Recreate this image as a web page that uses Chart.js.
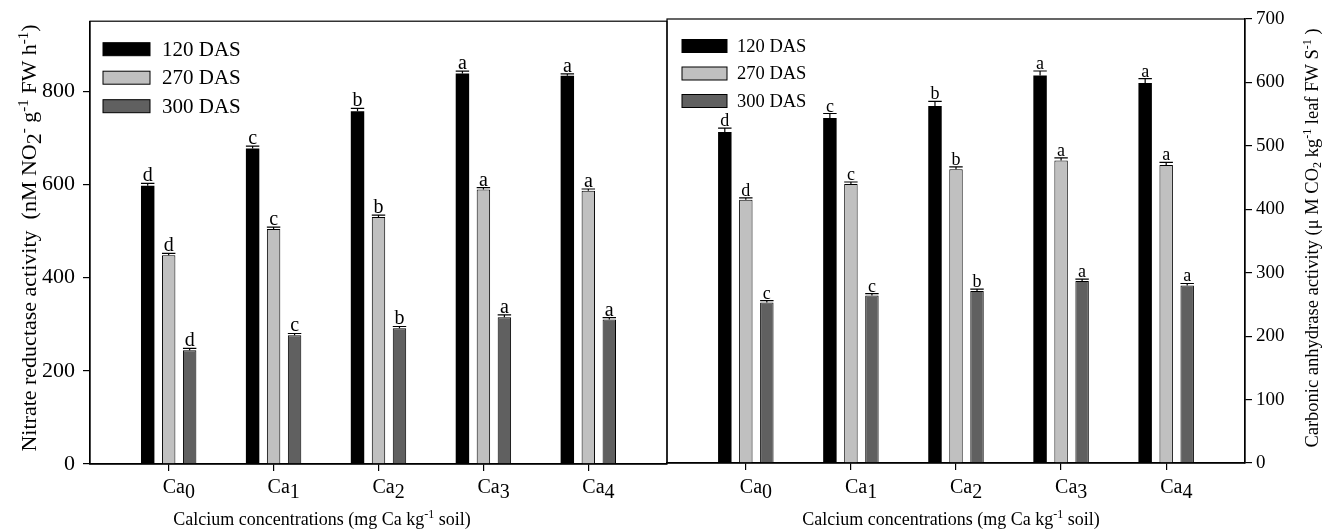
<!DOCTYPE html>
<html>
<head>
<meta charset="utf-8">
<script src="https://cdn.jsdelivr.net/npm/chart.js@4.4.0/dist/chart.umd.min.js"></script>
<style>
html,body{margin:0;padding:0;background:#fff;}
#wrap{position:relative;width:1329px;height:532px;overflow:hidden;}
#c1{position:absolute;left:0;top:0;}
#c2{position:absolute;left:661px;top:0;}
</style>
</head>
<body>
<div id="wrap">
  <canvas id="c1" width="670" height="532"></canvas>
  <canvas id="c2" width="668" height="532"></canvas>
</div>
<script>
// calcium levels (subscripts of "Ca") and series
const caLevels=['0','1','2','3','4'];
const seriesNames=['120 DAS','270 DAS','300 DAS'];
const seriesColors=['#000000','#c0c0c0','#606060'];

// nitrate reductase activity (left panel)
const nr120=[597,677,757,838,833];
const nr120Err=[5,5,6,5,4];
const nr270=[448,504,530,589,586];
const nr270Err=[4,4,4,4,4];
const nr300=[244,276,291,315,310];
const nr300Err=[4,4,4,5,4];
const nrLet120=['d','c','b','a','a'];
const nrLet270=['d','c','b','a','a'];
const nrLet300=['d','c','b','a','a'];
const nrTicks=[0,200,400,600,800];

// carbonic anhydrase activity (right panel)
const ca120=[522,544,563,611,599];
const ca120Err=[6,7,7,7,7];
const ca270=[415,440,463,477,470];
const ca270Err=[3,3,4,4,4];
const ca300=[253,264,271,287,280];
const ca300Err=[3,3,3,3,3];
const caLet120=['d','c','b','a','a'];
const caLet270=['d','c','b','a','a'];
const caLet300=['c','c','b','a','a'];
const caTicksY=[0,100,200,300,400,500,600,700];

const FONT='"Liberation Serif","Times New Roman",serif';
Chart.defaults.font.family=FONT;
Chart.defaults.color='#000';

const pts=arr=>arr.map((v,i)=>({x:i,y:v}));

function ds(k,vals,err,letters){
  return {label:seriesNames[k],data:pts(vals),err,letters,
    backgroundColor:seriesColors[k],borderColor:'#000',borderWidth:k===0?0:1,
    categoryPercentage:0.6,barPercentage:0.64};
}

// rich text: parts [{t,s,dy}]
function drawRich(ctx,parts,x,y){
  let w=0;
  parts.forEach(p=>{ctx.font=p.s+'px '+FONT;w+=ctx.measureText(p.t).width;});
  let cx=x-w/2;
  ctx.textAlign='left';ctx.textBaseline='alphabetic';
  parts.forEach(p=>{ctx.font=p.s+'px '+FONT;ctx.fillText(p.t,cx,y+(p.dy||0));cx+=ctx.measureText(p.t).width;});
}

const frameBox={id:'frameBox',afterDraw(chart){
  const {ctx,chartArea:a}=chart;
  ctx.save();ctx.strokeStyle='#000';ctx.lineWidth=1.2;
  ctx.strokeRect(a.left,a.top,a.right-a.left,a.bottom-a.top);
  ctx.restore();
}};

const errBars={id:'errBars',afterDatasetsDraw(chart,args,o){
  const {ctx}=chart;const ys=chart.scales.y;
  ctx.save();
  chart.data.datasets.forEach((d,i)=>{
    chart.getDatasetMeta(i).data.forEach((bar,j)=>{
      const {x,width}=bar.getProps(['x','width'],true);
      const base=ys.getPixelForValue(d.data[j].y);
      const top=ys.getPixelForValue(d.data[j].y+d.err[j]);
      ctx.strokeStyle='#000';ctx.lineWidth=1.2;
      ctx.beginPath();ctx.moveTo(x,base);ctx.lineTo(x,top);
      ctx.moveTo(x-width/2,top);ctx.lineTo(x+width/2,top);ctx.stroke();
      ctx.fillStyle='#000';ctx.font=o.size+'px '+FONT;
      ctx.textAlign='center';ctx.textBaseline='alphabetic';
      ctx.fillText(d.letters[j],x,top-2);
    });
  });
  ctx.restore();
}};

const caTickLabels={id:'caTickLabels',afterDraw(chart,args,o){
  const {ctx}=chart;const xs=chart.scales.x;
  ctx.save();ctx.fillStyle='#000';ctx.font=o.size+'px '+FONT;ctx.textAlign='left';ctx.textBaseline='alphabetic';
  xs.ticks.forEach((t,i)=>{
    const px=xs.getPixelForValue(t.value)-6;
    ctx.fillText('Ca',px,o.y);
    ctx.fillText(caLevels[i],px+ctx.measureText('Ca').width,o.y+5);
  });
  ctx.restore();
}};

const boxLegend={id:'boxLegend',afterDraw(chart,args,o){
  const {ctx,chartArea:a}=chart;
  ctx.save();ctx.font=o.size+'px '+FONT;ctx.textAlign='left';ctx.textBaseline='middle';
  chart.data.datasets.forEach((d,i)=>{
    const cy=a.top+o.y0+i*o.step;
    ctx.fillStyle=d.backgroundColor;
    ctx.fillRect(a.left+o.x0,cy-o.h/2,o.w,o.h);
    ctx.strokeStyle='#000';ctx.lineWidth=1;
    ctx.strokeRect(a.left+o.x0,cy-o.h/2,o.w,o.h);
    ctx.fillStyle='#000';
    ctx.fillText(d.label,a.left+o.x0+o.w+o.gap,cy+1);
  });
  ctx.restore();
}};

const titles={id:'titles',afterDraw(chart,args,o){
  const {ctx}=chart;
  ctx.save();ctx.fillStyle='#000';
  drawRich(ctx,o.xParts,o.xX,o.xY);
  ctx.translate(o.yX,o.yY);ctx.rotate(-Math.PI/2);
  drawRich(ctx,o.yParts,0,0);
  ctx.restore();
}};

function xScale(h){
  return {type:'linear',min:-0.75,max:4.75,offset:false,
    afterBuildTicks:s=>{s.ticks=caLevels.map((_,i)=>({value:i}));},
    afterFit:s=>{s.height=h;},
    ticks:{callback:()=>''},
    grid:{offset:false,drawOnChartArea:false,tickLength:7,color:'#000',lineWidth:1.2},
    border:{color:'#000',width:1.5}};
}

new Chart(document.getElementById('c1'),{
  type:'bar',
  data:{datasets:[ds(0,nr120,nr120Err,nrLet120),ds(1,nr270,nr270Err,nrLet270),ds(2,nr300,nr300Err,nrLet300)]},
  options:{
    responsive:false,animation:false,events:[],
    layout:{padding:{left:0,top:21,right:3,bottom:0}},
    scales:{
      x:xScale(68),
      y:{min:0,max:950,
        afterBuildTicks:s=>{s.ticks=nrTicks.map(v=>({value:v}));},
        afterFit:s=>{s.width=90;},
        ticks:{font:{size:22},color:'#000',padding:8},
        grid:{drawOnChartArea:false,tickLength:7,color:'#000',lineWidth:1.2},
        border:{color:'#000',width:1.3}}
    },
    plugins:{
      legend:{display:false},tooltip:{enabled:false},
      errBars:{size:20},
      caTickLabels:{size:20,y:493},
      boxLegend:{size:21,x0:13,y0:28,step:28.5,w:47,h:13,gap:12},
      titles:{
        xParts:[{t:'Calcium concentrations (mg Ca kg',s:18},{t:'-1',s:12,dy:-7},{t:' soil)',s:18}],
        xX:322,xY:525,
        yParts:[{t:'Nitrate reductase activity  (nM NO',s:22},{t:'2',s:22,dy:5},{t:'-',s:15,dy:-8},{t:' g',s:22},{t:'-1',s:15,dy:-8},{t:' FW h',s:22},{t:'-1',s:15,dy:-8},{t:')',s:22}],
        yX:36,yY:238
      }
    }
  },
  plugins:[frameBox,errBars,caTickLabels,boxLegend,titles]
});

new Chart(document.getElementById('c2'),{
  type:'bar',
  data:{datasets:[ds(0,ca120,ca120Err,caLet120),ds(1,ca270,ca270Err,caLet270),ds(2,ca300,ca300Err,caLet300)]},
  options:{
    responsive:false,animation:false,events:[],
    layout:{padding:{left:6,top:19,right:0,bottom:0}},
    scales:{
      x:xScale(69),
      y:{position:'right',min:0,max:700,
        afterBuildTicks:s=>{s.ticks=caTicksY.map(v=>({value:v}));},
        afterFit:s=>{s.width=84;},
        ticks:{font:{size:19},color:'#000',padding:4},
        grid:{drawOnChartArea:false,tickLength:7,color:'#000',lineWidth:1.2},
        border:{color:'#000',width:1.3}}
    },
    plugins:{
      legend:{display:false},tooltip:{enabled:false},
      errBars:{size:18},
      caTickLabels:{size:20,y:493},
      boxLegend:{size:18.5,x0:15,y0:27,step:27.5,w:45,h:13,gap:10},
      titles:{
        xParts:[{t:'Calcium concentrations (mg Ca kg',s:18},{t:'-1',s:12,dy:-7},{t:' soil)',s:18}],
        xX:290,xY:525,
        yParts:[{t:'Carbonic anhydrase activity (\u03bc M CO',s:18.5},{t:'2',s:12,dy:3},{t:' kg',s:18.5},{t:'-1',s:12,dy:-7},{t:' leaf FW S',s:18.5},{t:'-1',s:12,dy:-7},{t:' )',s:18.5}],
        yX:657,yY:238
      }
    }
  },
  plugins:[frameBox,errBars,caTickLabels,boxLegend,titles]
});
</script>
</body>
</html>
